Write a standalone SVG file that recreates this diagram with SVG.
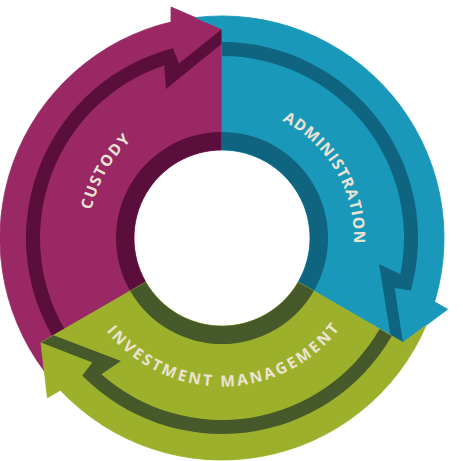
<svg xmlns="http://www.w3.org/2000/svg" xmlns:xlink="http://www.w3.org/1999/xlink" width="463" height="461" viewBox="0 0 463 461">
<style>
.lbl{font-family:"Open Sans","Liberation Sans",sans-serif;font-weight:700;font-size:15.5px;fill:#ebe4d4}
.body{stroke-width:0.8;stroke-linejoin:round}
.mag .body{fill:#992864;stroke:#992864}
.mag .dark{fill:#5a0e3b}
.teal .body{fill:#1a98ba;stroke:#1a98ba}
.teal .dark{fill:#0f6480}
.green .body{fill:#9db02b;stroke:#9db02b}
.green .dark{fill:#46592b}
</style>
<defs>
<path id="arrowBody" d="M145.79,282 L41,342.5 L44.35,371.14 A222,222 0 0 1 171,21.94 L171,7 L222,29 L222,150 A88,88 0 0 0 145.79,282 Z"/>
<path id="arrowBand" d="M52.26,336 A196,196 0 0 1 172.92,48.24 L179,63.5 L222,29 L222,43.5 L166,89 L164.25,65.41 A182,182 0 0 0 64.38,329 Z"/>
<path id="arrowRing" d="M145.79,282 A88,88 0 0 1 222,150 L222,132 A106,106 0 0 0 130.2,291 Z"/>
<path id="tpCustody" d="M90.74,262.33 A133.5,133.5 0 0 1 175.24,112.95" fill="none"/>
<path id="tpAdmin" d="M244.24,107.9 A132,132 0 0 1 346.28,282.49" fill="none"/>
<path id="tpInvest" d="M78.91,277.68 A148.5,148.5 0 0 0 365.77,275.18" fill="none"/>
</defs>
<g id="connectors"></g>
<g id="custody" class="mag">
<use xlink:href="#arrowBody" class="body"/>
<use xlink:href="#arrowBand" class="dark"/>
<use xlink:href="#arrowRing" class="dark"/>
<text class="lbl" text-anchor="middle"><textPath xlink:href="#tpCustody" startOffset="50%" textLength="81" lengthAdjust="spacing">CUSTODY</textPath></text>
</g>
<g id="administration" class="teal">
<g transform="rotate(120 222 238)">
<use xlink:href="#arrowBody" class="body"/>
<use xlink:href="#arrowBand" class="dark"/>
<use xlink:href="#arrowRing" class="dark"/>
</g>
<text class="lbl" text-anchor="middle"><textPath xlink:href="#tpAdmin" startOffset="50%" textLength="150" lengthAdjust="spacing">ADMINISTRATION</textPath></text>
</g>
<g id="investment-management" class="green">
<g transform="rotate(240 222 238)">
<use xlink:href="#arrowBody" class="body"/>
<use xlink:href="#arrowBand" class="dark"/>
<use xlink:href="#arrowRing" class="dark"/>
</g>
<text class="lbl" text-anchor="middle"><textPath xlink:href="#tpInvest" startOffset="50%" textLength="268" lengthAdjust="spacing">INVESTMENT MANAGEMENT</textPath></text>
</g>
</svg>
